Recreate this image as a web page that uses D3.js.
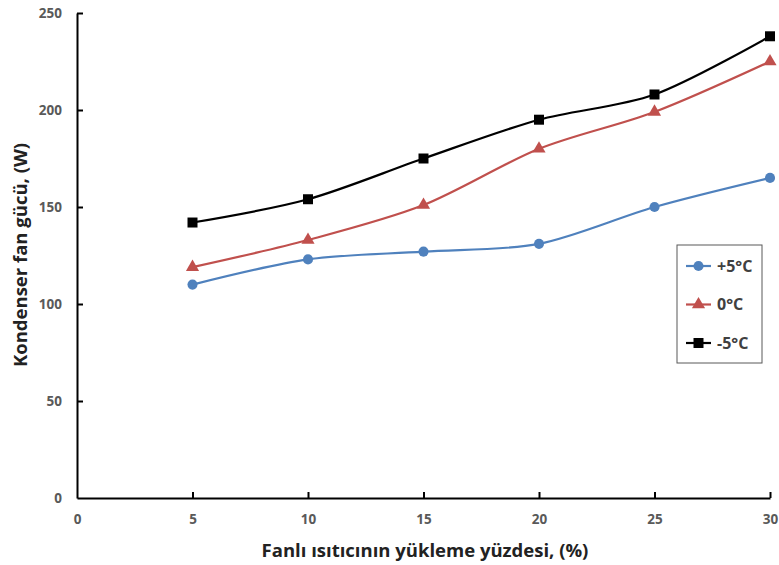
<!DOCTYPE html>
<meta charset="utf-8">
<script src="https://d3js.org/d3.v7.min.js"></script>
<style>
  body { margin: 0; background: #fff; }
  text { font-family: "Open Sans", "Liberation Sans", sans-serif; }
</style>
<body>
<script>

// data
var loads = [5, 10, 15, 20, 25, 30];
var plus5 = [110, 123, 127, 131, 150, 165];
var zero = [119, 133, 151, 180, 199, 225];
var minus5 = [142, 154, 175, 195, 208, 238];
var seriesNames = ["+5°C", "0°C", "-5°C"];
var xTicks = [0, 5, 10, 15, 20, 25, 30];
var yTicks = [0, 50, 100, 150, 200, 250];

var series = [
  { name: seriesNames[0], values: plus5, color: "#4f81bd", symbol: d3.symbolCircle, size: 80 },
  { name: seriesNames[1], values: zero, color: "#c0504d", symbol: d3.symbolTriangle, size: 75 },
  { name: seriesNames[2], values: minus5, color: "#000000", symbol: d3.symbolSquare, size: 100 }
];

var width = 779, height = 565;
var margin = { top: 13, right: 9, bottom: 67, left: 77 };

var svg = d3.select("body").append("svg")
  .attr("width", width)
  .attr("height", height);

var x = d3.scaleLinear().domain([0, 30]).range([margin.left, width - margin.right]);
var y = d3.scaleLinear().domain([0, 250]).range([height - margin.bottom, margin.top]);

// axes, ticks point inward
var xAxis = svg.append("g")
  .attr("transform", "translate(0," + y(0) + ")")
  .call(d3.axisBottom(x).tickValues(xTicks).tickSizeInner(-6).tickSizeOuter(0).tickPadding(16));
var yAxis = svg.append("g")
  .attr("transform", "translate(" + x(0) + ",0)")
  .call(d3.axisLeft(y).tickValues(yTicks).tickSizeInner(-6).tickSizeOuter(0).tickPadding(15));

[xAxis, yAxis].forEach(function(a) {
  a.select(".domain").attr("stroke", "#000").attr("stroke-width", 2);
  a.selectAll(".tick line").attr("stroke", "#000").attr("stroke-width", 2);
  a.selectAll(".tick text")
    .attr("fill", "#595959")
    .style("font-size", "13.5px")
    .style("font-weight", "bold");
});
xAxis.selectAll(".tick").filter(function(d) { return d === 0; }).select("line").remove();
yAxis.selectAll(".tick").filter(function(d) { return d === 0; }).select("line").remove();

var line = d3.line()
  .x(function(d, i) { return x(loads[i]); })
  .y(function(d) { return y(d); })
  .curve(d3.curveCardinal.tension(0.1));

var g = svg.selectAll(".series")
  .data(series)
  .enter().append("g");

g.append("path")
  .attr("d", function(s) { return line(s.values); })
  .attr("fill", "none")
  .attr("stroke", function(s) { return s.color; })
  .attr("stroke-width", 2.2);

g.each(function(s) {
  d3.select(this).selectAll("path.mark")
    .data(s.values)
    .enter().append("path")
    .attr("class", "mark")
    .attr("d", d3.symbol().type(s.symbol).size(s.size))
    .attr("transform", function(d, i) { return "translate(" + x(loads[i]) + "," + y(d) + ")"; })
    .attr("fill", s.color);
});

// axis titles
svg.append("text")
  .attr("x", 425)
  .attr("y", 557)
  .attr("text-anchor", "middle")
  .style("font-size", "18.5px")
  .style("font-weight", "bold")
  .attr("fill", "#222")
  .text("Fanlı ısıtıcının yükleme yüzdesi, (%)");

svg.append("text")
  .attr("transform", "translate(27," + 255 + ") rotate(-90)")
  .attr("text-anchor", "middle")
  .style("font-size", "18.5px")
  .style("font-weight", "bold")
  .attr("fill", "#222")
  .text("Kondenser fan gücü, (W)");

// legend
var legend = svg.append("g").attr("transform", "translate(677,245)");
legend.append("rect")
  .attr("width", 85)
  .attr("height", 118)
  .attr("fill", "#fff")
  .attr("stroke", "#595959")
  .attr("stroke-width", 1);

var item = legend.selectAll(".item")
  .data(series)
  .enter().append("g")
  .attr("transform", function(d, i) { return "translate(0," + (21 + i * 38.5) + ")"; });

item.append("line")
  .attr("x1", 9).attr("x2", 34)
  .attr("stroke", function(d) { return d.color; })
  .attr("stroke-width", 2.2);
item.append("path")
  .attr("d", function(d) { return d3.symbol().type(d.symbol).size(d.size)(); })
  .attr("transform", "translate(21.5,0)")
  .attr("fill", function(d) { return d.color; });
item.append("text")
  .attr("x", 40)
  .attr("dy", "0.35em")
  .style("font-size", "16px")
  .style("font-weight", "bold")
  .attr("fill", "#404040")
  .text(function(d) { return d.name; });

</script>
</body>
